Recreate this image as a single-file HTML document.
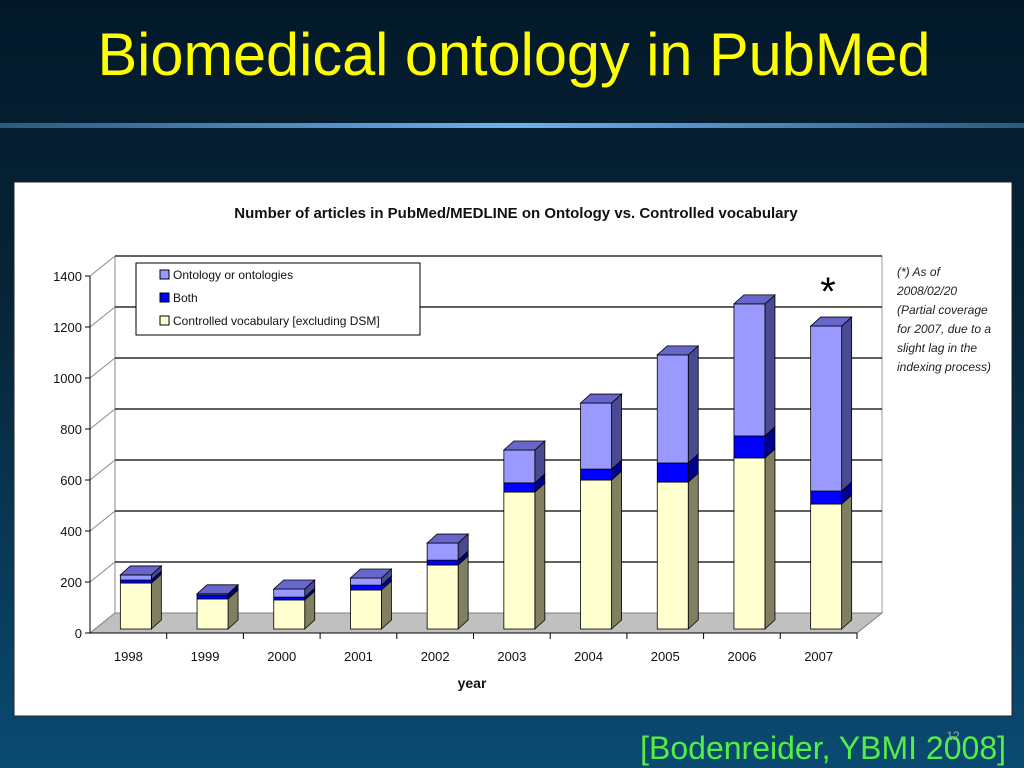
<!DOCTYPE html>
<html><head><meta charset="utf-8"><style>
html,body{margin:0;padding:0;width:1024px;height:768px;overflow:hidden}
body{background:linear-gradient(#03192a 0%,#062538 40%,#0a4a72 100%);font-family:"Liberation Sans",sans-serif}
</style></head><body>
<svg width="1024" height="768" viewBox="0 0 1024 768" xmlns="http://www.w3.org/2000/svg">
<defs><linearGradient id="bl" x1="0" x2="1"><stop offset="0" stop-color="#2a5a80"/><stop offset="0.5" stop-color="#6fb0f0"/><stop offset="1" stop-color="#2a5a80"/></linearGradient></defs>
<text x="514" y="75" text-anchor="middle" font-family="'Liberation Sans Narrow','Liberation Sans',sans-serif" font-size="60" fill="#ffff00" textLength="833" lengthAdjust="spacingAndGlyphs">Biomedical ontology in PubMed</text>
<rect x="0" y="123" width="1024" height="5" fill="url(#bl)"/>
<rect x="14" y="182" width="998" height="534" fill="#fff" stroke="#222" stroke-width="1"/>
<text x="516" y="218" text-anchor="middle" font-size="15" font-weight="bold" fill="#111">Number of articles in PubMed/MEDLINE on Ontology vs. Controlled vocabulary</text>
<g id="chart"></g>
<text x="828" y="305" text-anchor="middle" font-size="40" fill="#000">*</text>
<g font-size="12" font-style="italic" fill="#222">
<text x="897" y="276">(*) As of</text><text x="897" y="295">2008/02/20</text><text x="897" y="314">(Partial coverage</text><text x="897" y="333">for 2007, due to a</text><text x="897" y="352">slight lag in the</text><text x="897" y="371">indexing process)</text></g>
<text x="472" y="688" text-anchor="middle" font-size="14" font-weight="bold" fill="#111">year</text>
<text x="1006" y="759" text-anchor="end" font-family="'Liberation Sans Narrow','Liberation Sans',sans-serif" font-size="32" fill="#55ee44">[Bodenreider, YBMI 2008]</text>
<text x="953" y="740" text-anchor="middle" font-size="12" fill="#9ab">12</text>
</svg>
<script>
const categories=["1998","1999","2000","2001","2002","2003","2004","2005","2006","2007"];
const vocab=[180,118,114,153,251,537,584,576,671,490];
const both=[12,15,11,19,19,36,43,75,86,51];
const onto=[20,5,32,28,67,129,259,424,518,647];
const yTicks=[0,200,400,600,800,1000,1200,1400];
const NS="http://www.w3.org/2000/svg";
const g=document.getElementById('chart');
const X0=90,X1=857,Y0=633,DX=25,DY=-20,K=0.255;
const yF=v=>Y0-v*K;
const cw=(X1-X0)/categories.length;
function mk(t,a,p){const e=document.createElementNS(NS,t);for(const k in a)e.setAttribute(k,a[k]);(p||g).appendChild(e);return e;}
// floor
let e=mk('polygon',{points:`${X0},${Y0} ${X1},${Y0} ${X1+DX},${Y0+DY} ${X0+DX},${Y0+DY}`,fill:'#c0c0c0',stroke:'#808080'});

e=mk('line',{x1:X0+DX,y1:yF(1400)+DY,x2:X0+DX,y2:Y0+DY,stroke:'#888'});

e=mk('line',{x1:X1+DX,y1:yF(1400)+DY,x2:X1+DX,y2:Y0+DY,stroke:'#999'});

yTicks.forEach(v=>{
  const y=yF(v);
  if(v>0){e=mk('line',{x1:X0+DX,y1:y+DY,x2:X1+DX,y2:y+DY,stroke:'#000','stroke-width':1.2});
  }
  e=mk('line',{x1:X0,y1:y,x2:X0+DX,y2:y+DY,stroke:'#888'});
  
  e=mk('line',{x1:X0-5,y1:y,x2:X0,y2:y,stroke:'#000'});
  
  e=mk('text',{x:X0-8,y:y+5,'text-anchor':'end','font-size':13,fill:'#111'});e.textContent=v;
  
});
e=mk('line',{x1:X0,y1:yF(1400),x2:X0,y2:Y0,stroke:'#000'});

e=mk('line',{x1:X0,y1:Y0,x2:X1,y2:Y0,stroke:'#000'});

const series=[{d:vocab,f:'#ffffd0',s:'#808060',t:'#ffffa0',n:'vocab'},{d:both,f:'#0000ff',s:'#000090',t:'#0000c0',n:'both'},{d:onto,f:'#9999ff',s:'#4a4a90',t:'#6666cc',n:'onto'}];
const bdx=10,bdy=-9,bw=31,base=Y0-4;
categories.forEach((c,i)=>{
  const xs=X0+i*cw;
  e=mk('line',{x1:xs+cw,y1:Y0,x2:xs+cw,y2:Y0+6,stroke:'#000'});
  
  e=mk('text',{x:xs+cw/2,y:Y0+28,'text-anchor':'middle','font-size':13,fill:'#111'});e.textContent=c;
  
  const bx=xs+cw/2-8;let cum=0;
  series.forEach((s,si)=>{
    const v=s.d[i];const yb=base-cum*K,yt=base-(cum+v)*K;cum+=v;
    e=mk('polygon',{points:`${bx+bw},${yb} ${bx+bw+bdx},${yb+bdy} ${bx+bw+bdx},${yt+bdy} ${bx+bw},${yt}`,fill:s.s,stroke:'#000','stroke-width':0.8});
    
    e=mk('rect',{x:bx,y:yt,width:bw,height:yb-yt,fill:s.f,stroke:'#000','stroke-width':0.8});
    
    if(si===series.length-1){
      e=mk('polygon',{points:`${bx},${yt} ${bx+bw},${yt} ${bx+bw+bdx},${yt+bdy} ${bx+bdx},${yt+bdy}`,fill:s.t,stroke:'#000','stroke-width':0.8});
      
    }
  });
});
// legend
const lg=mk('g',{});

e=mk('rect',{x:136,y:263,width:284,height:72,fill:'#fff',stroke:'#000'},lg);

const lgItems=[['Ontology or ontologies','#9999ff'],['Both','#0000ff'],['Controlled vocabulary [excluding DSM]','#ffffd0']];
lgItems.forEach((it,k)=>{
  const y=275+k*23;
  e=mk('rect',{x:160,y:y-5,width:9,height:9,fill:it[1],stroke:'#000'},lg);
  
  e=mk('text',{x:173,y:y+4,'font-size':12,fill:'#111'},lg);e.textContent=it[0];
  
});
</script>
</body></html>
